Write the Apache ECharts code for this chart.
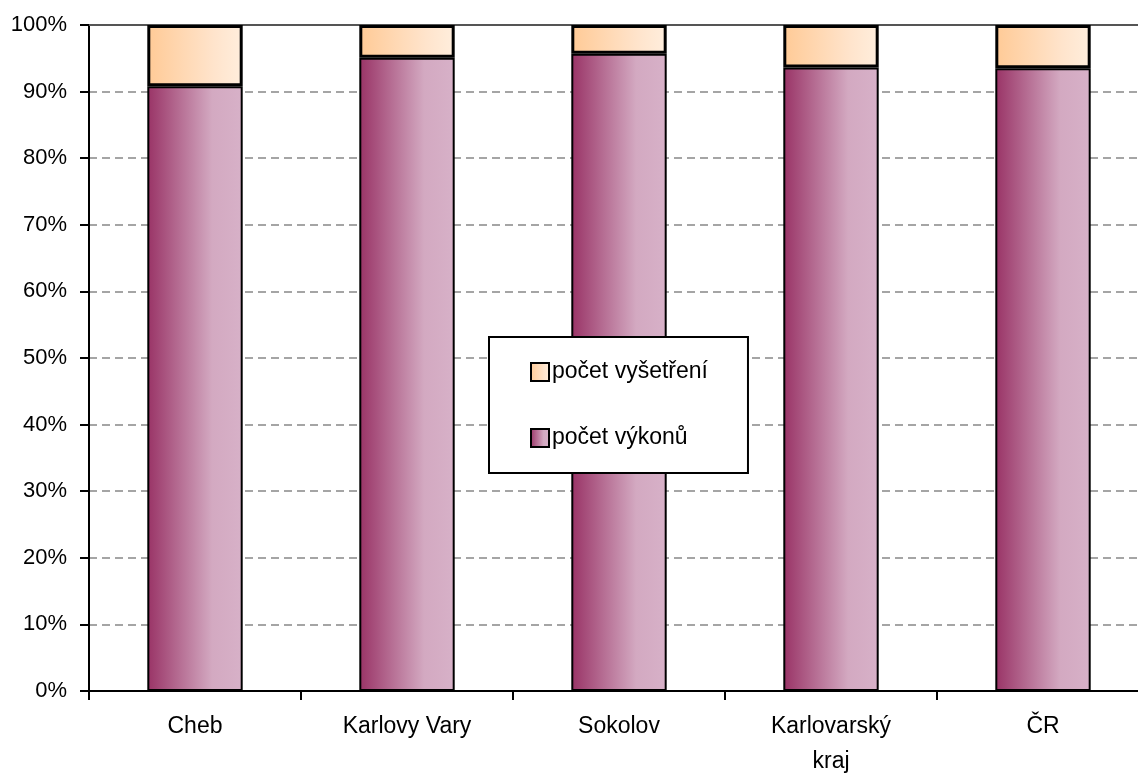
<!DOCTYPE html>
<html>
<head>
<meta charset="utf-8">
<script src="https://cdn.jsdelivr.net/npm/echarts@6/dist/echarts.min.js"></script>
<style>html,body{margin:0;padding:0;background:#fff;overflow:hidden}#c{width:1138px;height:773px}</style>
</head>
<body>
<div id="c"></div>
<script>
const categories = ['Cheb', 'Karlovy Vary', 'Sokolov', 'Karlovarský\nkraj', 'ČR'];
const vykony = [90.8, 95.1, 95.7, 93.6, 93.5];
const vysetreni = [9.2, 4.9, 4.3, 6.4, 6.5];
const yTicks = [0, 10, 20, 30, 40, 50, 60, 70, 80, 90, 100];

const FONT = "'Liberation Sans Narrow', 'Arial Narrow', 'Liberation Sans', Arial, sans-serif";
const purple = {type:'linear', x:0, y:0, x2:1, y2:0, colorStops:[
  {offset:0, color:'#993366'}, {offset:0.68, color:'#d3a9c1'}, {offset:1, color:'#d7b1c8'}]};
const peach = {type:'linear', x:0, y:0, x2:1, y2:0, colorStops:[
  {offset:0, color:'#ffca96'}, {offset:0.7, color:'#ffe4cc'}, {offset:1, color:'#ffeedd'}]};

const chart = echarts.init(document.getElementById('c'), null, {renderer:'canvas'});
chart.setOption({
  animation:false,
  textStyle:{fontFamily:FONT},
  grid:{left:89, right:-11, top:25, bottom:82, containLabel:false, outerBoundsMode:'none'},
  legend:{
    orient:'vertical', left:489, top:337,
    data:['počet vyšetření','počet výkonů'],
    itemWidth:18, itemHeight:18, itemGap:42,
    padding:[23, 40, 23, 41],
    borderColor:'#000', borderWidth:2, backgroundColor:'#fff',
    textStyle:{fontFamily:FONT, fontSize:23, color:'#000', lineHeight:24, padding:[0,0,0,-2]},
    icon:'rect'
  },
  xAxis:[{
    type:'category', data:categories,
    axisLine:{lineStyle:{color:'#000', width:2}},
    axisTick:{show:true, alignWithLabel:false, length:9, lineStyle:{color:'#000', width:2}},
    axisLabel:{color:'#000', fontSize:23, fontFamily:FONT, margin:18, lineHeight:35, interval:0}
  },{
    type:'category', data:categories, position:'top',
    axisLine:{show:true, lineStyle:{color:'#555', width:2}},
    axisTick:{show:false}, axisLabel:{show:false}
  }],
  yAxis:{
    type:'value', min:0, max:100, interval:10,
    axisLine:{show:true, lineStyle:{color:'#000', width:2}},
    axisTick:{show:true, length:9, lineStyle:{color:'#000', width:2}},
    axisLabel:{color:'#000', fontSize:22, fontFamily:FONT, margin:22, formatter:'{value}%'},
    splitLine:{show:true, lineStyle:{color:'#888', width:1.5, type:[8,5]}}
  },
  series:[{
    name:'počet výkonů', type:'bar', stack:'a', data:vykony, barWidth:'45%',
    itemStyle:{color:purple, borderColor:'#000', borderWidth:2}
  },{
    name:'počet vyšetření', type:'bar', stack:'a', data:vysetreni,
    itemStyle:{color:peach, borderColor:'#000', borderWidth:3}
  }]
});
</script>
</body>
</html>
